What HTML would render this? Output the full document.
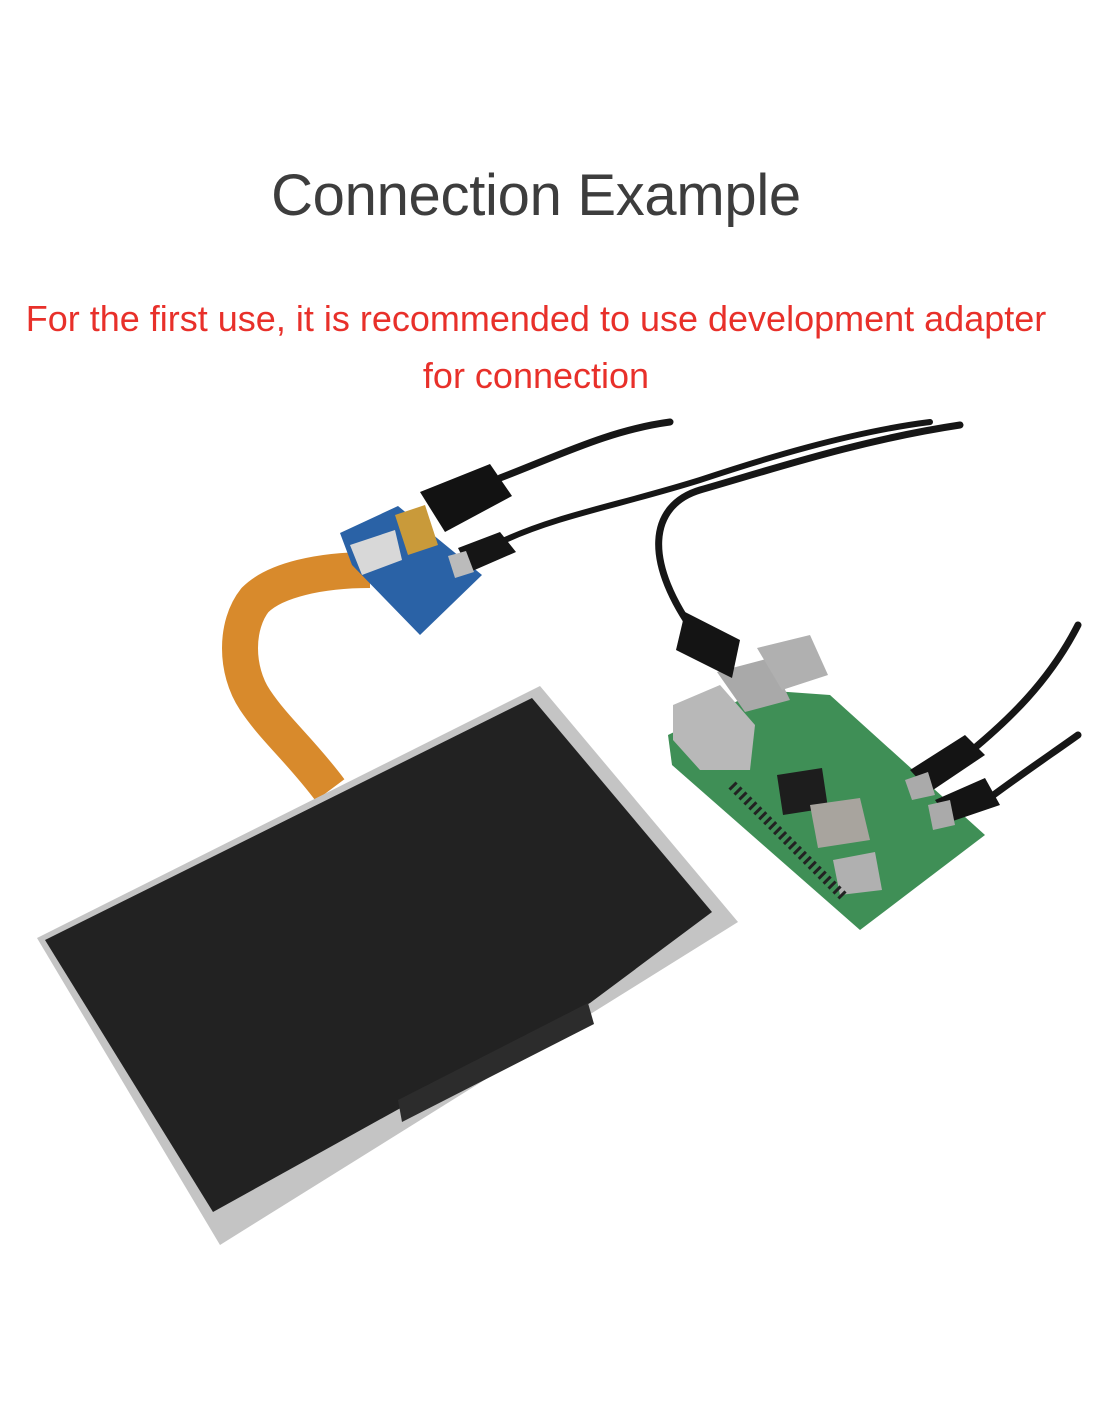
<!DOCTYPE html>
<html><head><style>
body{margin:0;width:1100px;height:1422px;background:#fff;overflow:hidden;position:relative;font-family:"Liberation Sans",sans-serif}
.t{position:absolute;left:-14px;width:1100px;text-align:center}
</style></head><body>
<div class="t" style="top:162px;font-size:58px;color:#3d3d3d;letter-spacing:-0.3px">Connection Example</div>
<div class="t" style="top:290px;font-size:36px;color:#e8302a;line-height:57px;letter-spacing:0px">For the first use, it is recommended to use development adapter<br>for connection</div>
<svg width="1100" height="1422" style="position:absolute;left:0;top:0">
<g fill="none" stroke="#161616" stroke-linecap="round">
<path d="M500 478 C560 455 610 430 670 422" stroke-width="7"/>
<path d="M505 540 C560 515 620 505 700 480 C760 460 850 432 930 422" stroke-width="6"/>
<path d="M960 425 C860 440 770 470 700 490 C650 505 640 560 700 640" stroke-width="7"/>
<path d="M960 760 C1010 720 1050 680 1078 625" stroke-width="7"/>
<path d="M980 805 C1020 775 1050 755 1078 735" stroke-width="7"/>
</g>
<path d="M370 570 C320 570 275 580 255 600 C235 625 235 670 255 700 C275 730 300 750 330 790" fill="none" stroke="#d88a2c" stroke-width="36"/>
<polygon points="340,533 398,506 482,575 420,635 352,565" fill="#2a62a6"/>
<polygon points="350,545 395,530 402,560 362,575" fill="#d8d8d8"/>
<polygon points="395,515 425,505 438,545 408,555" fill="#c99a3a"/>
<polygon points="420,492 490,464 512,496 445,532" fill="#121212"/>
<polygon points="458,548 500,532 516,552 470,572" fill="#151515"/>
<polygon points="448,556 466,551 474,572 455,578" fill="#bbb"/>
<polygon points="37,938 540,686 738,922 220,1245" fill="#c4c4c4"/>
<polygon points="45,940 532,698 712,912 590,1003 213,1212" fill="#222"/>
<polygon points="398,1100 588,1003 594,1024 402,1122" fill="#2c2c2c"/>
<polygon points="668,735 760,690 830,695 985,835 860,930 672,765" fill="#3f8f56"/>
<polygon points="673,705 720,685 755,725 750,770 700,770 673,740" fill="#b8b8b8"/>
<polygon points="717,672 770,658 790,700 745,712" fill="#a9a9a9"/>
<polygon points="757,648 810,635 828,675 782,690" fill="#b0b0b0"/>
<polygon points="685,612 740,640 732,678 676,650" fill="#141414"/>
<polygon points="777,775 822,768 828,808 783,815" fill="#1d1d1d"/>
<polygon points="810,805 860,798 870,840 818,848" fill="#a8a49e"/>
<polygon points="833,860 875,852 882,890 840,895" fill="#b0b0b0"/>
<line x1="732" y1="785" x2="845" y2="898" stroke="#222" stroke-width="10" stroke-dasharray="3 4"/>
<polygon points="910,770 965,735 985,755 930,792" fill="#141414"/>
<polygon points="935,800 985,778 1000,805 950,822" fill="#141414"/>
<polygon points="905,780 928,772 935,795 912,800" fill="#aaa"/>
<polygon points="928,805 950,800 955,825 933,830" fill="#aaa"/>
</svg>
</body></html>
